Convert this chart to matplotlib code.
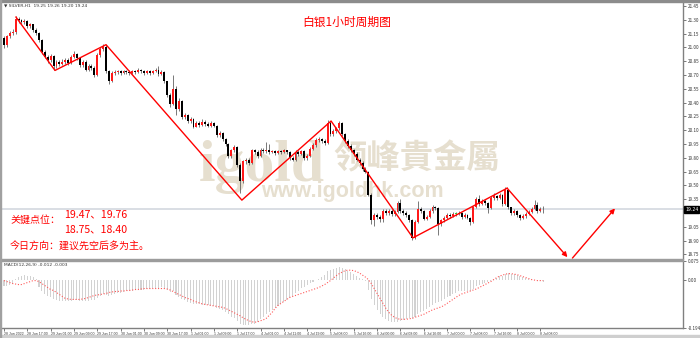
import matplotlib
matplotlib.use("Agg")
import matplotlib.pyplot as plt
import numpy as np
from matplotlib.patches import Rectangle
from matplotlib.transforms import blended_transform_factory

plt.rcParams["font.family"] = ["Noto Sans CJK SC", "DejaVu Sans"]

# --- hourly candles (SILVER H1), open of bar 0 then closes / highs / lows ---
first_open = 21.10
closes = [
    21.03, 21.12, 21.16, 21.17, 21.31, 21.30, 21.28, 21.29, 21.23, 21.25,
    21.19, 21.16, 21.08, 20.95, 20.90, 20.86, 20.91, 20.80, 20.84, 20.82,
    20.84, 20.86, 20.83, 20.90, 20.93, 20.88, 20.81, 20.84, 20.76, 20.80,
    20.78, 20.70, 20.92, 20.98, 21.00, 20.74, 20.63, 20.72, 20.73, 20.74,
    20.72, 20.74, 20.73, 20.72, 20.74, 20.73, 20.76, 20.74, 20.72, 20.74,
    20.72, 20.74, 20.76, 20.71, 20.73, 20.63, 20.48, 20.38, 20.55, 20.33,
    20.42, 20.24, 20.27, 20.20, 20.22, 20.14, 20.18, 20.16, 20.19, 20.17,
    20.15, 20.18, 20.15, 20.05, 20.07, 20.00, 19.95, 19.82, 19.88, 19.92,
    19.72, 19.55, 19.76, 19.78, 19.74, 19.88, 19.86, 19.82, 19.89, 19.87,
    19.88, 19.86, 19.87, 19.85, 19.87, 19.86, 19.88, 19.86, 19.80, 19.78,
    19.86, 19.84, 19.87, 19.80, 19.82, 19.90, 19.94, 19.99, 20.00, 19.98,
    19.96, 20.18, 20.06, 20.09, 20.12, 20.18, 20.06, 19.98, 19.93, 19.88,
    19.84, 19.78, 19.74, 19.68, 19.65, 19.40, 19.12, 19.18, 19.16, 19.13,
    19.22, 19.20, 19.22, 19.19, 19.21, 19.31, 19.22, 19.20, 19.18, 19.12,
    18.93, 19.10, 19.24, 19.22, 19.14, 19.16, 19.22, 19.27, 19.25, 19.08,
    19.12, 19.15, 19.18, 19.17, 19.19, 19.19, 19.20, 19.16, 19.18, 19.15,
    19.10, 19.26, 19.35, 19.30, 19.33, 19.31, 19.25, 19.36, 19.38, 19.36,
    19.40, 19.30, 19.45, 19.26, 19.20, 19.22, 19.18, 19.15, 19.17, 19.19,
    19.21, 19.24, 19.29, 19.22, 19.24, 19.24,
]
highs = [
    21.12, 21.14, 21.18, 21.20, 21.34, 21.33, 21.31, 21.31, 21.30, 21.27,
    21.26, 21.21, 21.17, 21.09, 20.97, 20.92, 20.93, 20.92, 20.86, 20.86,
    20.87, 20.88, 20.88, 20.92, 20.96, 20.94, 20.89, 20.86, 20.86, 20.82,
    20.82, 20.80, 20.94, 21.00, 21.04, 21.03, 20.76, 20.74, 20.75, 20.76,
    20.75, 20.76, 20.75, 20.75, 20.76, 20.75, 20.78, 20.77, 20.75, 20.76,
    20.75, 20.76, 20.78, 20.80, 20.75, 20.74, 20.64, 20.50, 20.70, 20.58,
    20.45, 20.43, 20.29, 20.28, 20.24, 20.23, 20.20, 20.20, 20.22, 20.21,
    20.19, 20.20, 20.19, 20.16, 20.09, 20.08, 20.02, 19.96, 19.90, 19.94,
    19.93, 19.74, 19.78, 19.80, 19.80, 19.90, 19.90, 19.88, 19.91, 19.91,
    19.97, 19.95, 19.89, 19.89, 19.89, 19.88, 19.90, 19.89, 19.87, 19.82,
    19.88, 19.88, 19.89, 19.88, 19.84, 19.92, 19.96, 20.01, 20.03, 20.02,
    20.00, 20.21, 20.20, 20.11, 20.14, 20.20, 20.19, 20.07, 20.00, 19.95,
    19.90, 19.86, 19.80, 19.76, 19.70, 19.66, 19.42, 19.20, 19.20, 19.18,
    19.24, 19.24, 19.24, 19.24, 19.23, 19.33, 19.35, 19.24, 19.22, 19.19,
    19.14, 19.12, 19.33, 19.26, 19.23, 19.18, 19.24, 19.29, 19.28, 19.26,
    19.14, 19.17, 19.20, 19.20, 19.21, 19.21, 19.22, 19.21, 19.20, 19.19,
    19.16, 19.28, 19.37, 19.40, 19.35, 19.35, 19.32, 19.38, 19.42, 19.40,
    19.42, 19.41, 19.48, 19.46, 19.27, 19.24, 19.23, 19.19, 19.19, 19.21,
    19.23, 19.26, 19.34, 19.32, 19.26, 19.28,
]
lows = [
    20.99, 21.01, 21.10, 21.14, 21.15, 21.27, 21.26, 21.26, 21.21, 21.21,
    21.17, 21.13, 21.06, 20.93, 20.88, 20.83, 20.84, 20.76, 20.78, 20.80,
    20.81, 20.82, 20.81, 20.82, 20.88, 20.86, 20.79, 20.79, 20.74, 20.74,
    20.76, 20.68, 20.69, 20.90, 20.96, 20.72, 20.60, 20.62, 20.70, 20.71,
    20.70, 20.71, 20.71, 20.70, 20.71, 20.71, 20.72, 20.72, 20.70, 20.71,
    20.70, 20.71, 20.73, 20.69, 20.70, 20.61, 20.46, 20.35, 20.37, 20.27,
    20.31, 20.22, 20.22, 20.18, 20.18, 20.12, 20.13, 20.14, 20.15, 20.15,
    20.13, 20.14, 20.13, 20.03, 20.03, 19.98, 19.93, 19.80, 19.80, 19.86,
    19.70, 19.42, 19.53, 19.73, 19.72, 19.73, 19.84, 19.80, 19.81, 19.85,
    19.85, 19.84, 19.85, 19.83, 19.84, 19.84, 19.85, 19.84, 19.78, 19.76,
    19.77, 19.82, 19.83, 19.78, 19.78, 19.81, 19.88, 19.92, 19.97, 19.96,
    19.94, 19.95, 20.04, 20.04, 20.07, 20.10, 20.04, 19.96, 19.91, 19.86,
    19.82, 19.76, 19.72, 19.66, 19.63, 19.38, 19.08, 19.06, 19.13, 19.10,
    19.10, 19.18, 19.18, 19.17, 19.17, 19.20, 19.20, 19.18, 19.16, 19.10,
    18.91, 18.92, 19.09, 19.20, 19.12, 19.12, 19.15, 19.20, 19.23, 18.96,
    19.06, 19.10, 19.14, 19.15, 19.16, 19.17, 19.18, 19.14, 19.15, 19.13,
    19.07, 19.09, 19.25, 19.28, 19.29, 19.29, 19.20, 19.24, 19.34, 19.34,
    19.35, 19.28, 19.29, 19.24, 19.18, 19.18, 19.16, 19.12, 19.14, 19.15,
    19.18, 19.20, 19.23, 19.20, 19.21, 19.20,
]

# --- MACD(12,26,9) panel ---
macd_hist = [
    -0.024, -0.026, -0.022, -0.018, 0.004, 0.010, 0.016, 0.018, 0.016, 0.014,
    0.010, 0.004, -0.030, -0.044, -0.060, -0.068, -0.072, -0.080, -0.084, -0.086,
    -0.088, -0.088, -0.088, -0.086, -0.084, -0.084, -0.086, -0.086, -0.088, -0.086,
    -0.084, -0.084, -0.074, -0.066, -0.060, -0.064, -0.068, -0.064, -0.060, -0.056,
    -0.054, -0.050, -0.048, -0.046, -0.044, -0.042, -0.040, -0.040, -0.040, -0.038,
    -0.036, -0.034, -0.032, -0.032, -0.030, -0.034, -0.042, -0.050, -0.048, -0.064,
    -0.070, -0.080, -0.084, -0.090, -0.094, -0.098, -0.100, -0.100, -0.102, -0.104,
    -0.104, -0.106, -0.108, -0.114, -0.118, -0.124, -0.130, -0.140, -0.150, -0.156,
    -0.166, -0.178, -0.182, -0.184, -0.184, -0.180, -0.178, -0.170, -0.160, -0.150,
    -0.140, -0.132, -0.124, -0.116, -0.108, -0.100, -0.092, -0.084, -0.076, -0.068,
    -0.056, -0.044, -0.034, -0.028, -0.022, -0.014, -0.008, -0.002, 0.004, 0.012,
    0.020, 0.034, 0.040, 0.044, 0.048, 0.052, 0.048, 0.042, 0.036, 0.030,
    0.024, 0.016, 0.008, 0.002, -0.004, -0.040, -0.080, -0.104, -0.124, -0.140,
    -0.152, -0.160, -0.166, -0.170, -0.172, -0.170, -0.166, -0.162, -0.158, -0.156,
    -0.158, -0.150, -0.140, -0.132, -0.126, -0.120, -0.112, -0.104, -0.096, -0.092,
    -0.086, -0.080, -0.072, -0.066, -0.060, -0.054, -0.048, -0.046, -0.044, -0.044,
    -0.046, -0.036, -0.026, -0.020, -0.016, -0.012, -0.010, -0.004, 0.002, 0.008,
    0.014, 0.016, 0.024, 0.026, 0.024, 0.022, 0.018, 0.014, 0.010, 0.008,
    0.004, 0.002, -0.002, -0.004, -0.006, -0.008,
]
macd_signal = [
    -0.004, -0.008, -0.012, -0.016, -0.018, -0.020, -0.020, -0.016, -0.012, -0.008,
    -0.004, -0.004, -0.008, -0.016, -0.024, -0.032, -0.040, -0.044, -0.052, -0.060,
    -0.068, -0.076, -0.078, -0.080, -0.080, -0.080, -0.080, -0.078, -0.076, -0.072,
    -0.068, -0.064, -0.062, -0.060, -0.058, -0.056, -0.052, -0.050, -0.048, -0.048,
    -0.046, -0.046, -0.044, -0.044, -0.042, -0.040, -0.040, -0.038, -0.036, -0.036,
    -0.036, -0.036, -0.036, -0.036, -0.036, -0.036, -0.038, -0.042, -0.048, -0.054,
    -0.060, -0.066, -0.072, -0.076, -0.080, -0.086, -0.090, -0.094, -0.098, -0.100,
    -0.102, -0.104, -0.106, -0.108, -0.110, -0.112, -0.116, -0.122, -0.128, -0.134,
    -0.140, -0.146, -0.154, -0.160, -0.166, -0.170, -0.172, -0.170, -0.166, -0.162,
    -0.156, -0.144, -0.132, -0.116, -0.104, -0.096, -0.088, -0.080, -0.072, -0.068,
    -0.064, -0.060, -0.056, -0.052, -0.048, -0.044, -0.040, -0.036, -0.032, -0.026,
    -0.020, -0.012, -0.004, 0.006, 0.016, 0.024, 0.030, 0.036, 0.038, 0.038,
    0.036, 0.032, 0.026, 0.018, 0.010, 0.000, -0.016, -0.036, -0.056, -0.076,
    -0.096, -0.116, -0.132, -0.144, -0.152, -0.158, -0.160, -0.160, -0.160, -0.158,
    -0.156, -0.152, -0.148, -0.144, -0.140, -0.134, -0.128, -0.122, -0.118, -0.114,
    -0.110, -0.104, -0.096, -0.088, -0.080, -0.072, -0.064, -0.058, -0.054, -0.050,
    -0.046, -0.042, -0.038, -0.032, -0.026, -0.020, -0.014, -0.008, 0.000, 0.008,
    0.014, 0.018, 0.022, 0.024, 0.024, 0.022, 0.020, 0.016, 0.012, 0.008,
    0.004, 0.000, -0.002, -0.004, -0.004, -0.004,
]

time_tick_bars = [0, 8, 16, 24, 32, 40, 48, 56, 64, 72, 80, 88,
                  96, 104, 112, 120, 128, 136, 144, 152, 160, 168, 176, 184]
time_tick_labels = [
    "28 Jun 2022", "28 Jun 17:00", "29 Jun 01:00", "29 Jun 09:00", "29 Jun 17:00",
    "30 Jun 01:00", "30 Jun 09:00", "30 Jun 17:00", "1 Jul 01:00", "1 Jul 09:00",
    "1 Jul 17:00", "4 Jul 01:00", "4 Jul 11:00", "4 Jul 19:00", "5 Jul 08:00",
    "5 Jul 16:00", "6 Jul 00:00", "6 Jul 08:00", "6 Jul 16:00", "7 Jul 00:00",
    "7 Jul 08:00", "7 Jul 16:00", "8 Jul 00:00", "8 Jul 08:00",
]
price_ticks = [21.45, 21.30, 21.15, 21.00, 20.85, 20.70, 20.55, 20.40, 20.25, 20.10,
               19.95, 19.80, 19.65, 19.50, 19.35, 19.05, 18.90, 18.75]
macd_ticks = [0.075, 0.0, -0.194]
macd_tick_labels = ["0.075", "0.00", "-0.194"]
last_price = 19.24

# hand-drawn wave lines (bar index, price)
zigzag_bar = [4.1, 17.5, 35.0, 81.6, 112.2, 140.3, 172.6]
zigzag_price = [21.33, 20.75, 21.03, 19.34, 20.20, 18.93, 19.47]
arrow_from_bar = [172.6, 195.0]
arrow_from_price = [19.47, 18.71]
arrow_to_bar = [193.3, 209.6]
arrow_to_price = [18.72, 19.25]

title_text = "白银1小时周期图"
key_label = "关键点位："
key_levels_up = "19.47、19.76"
key_levels_down = "18.75、18.40"
direction_text = "今日方向：建议先空后多为主。"

W, H = 700, 338
fig = plt.figure(figsize=(W / 100, H / 100), dpi=100)
fig.patch.set_facecolor("white")


def fx(px):
    return px / W


def fy(py):
    return 1 - py / H


ax = fig.add_axes([0, fy(259), fx(683), fy(3) - fy(259)])
ax_m = fig.add_axes([0, fy(327.7), fx(683), fy(261) - fy(327.7)])

n = len(closes)
x = np.arange(n)
c = np.array(closes)
o = np.concatenate([[first_open], c[:-1]])
hi = np.array(highs)
lo = np.array(lows)

bull = c > o + 0.004
bear = c < o - 0.004
colors = np.where(bull, "#ff1a1a", np.where(bear, "#000000", "#33cc33"))
body_lo = np.minimum(o, c)
body_h = np.maximum(np.abs(c - o), 0.006)

ax.vlines(x, lo, hi, color="#555555", lw=0.55, zorder=2)
ax.bar(x, body_h, bottom=body_lo, width=0.66, color=colors, linewidth=0, zorder=3)

ax.axhline(last_price, color="#d7dbe2", lw=1.3, zorder=1)

ax.plot(zigzag_bar, zigzag_price, color="#ff0000", lw=1.0, zorder=5)
for xa, ya, xb, yb in zip(arrow_from_bar, arrow_from_price, arrow_to_bar, arrow_to_price):
    ax.annotate("", xy=(xb, yb), xytext=(xa, ya), annotation_clip=False, zorder=5,
                arrowprops=dict(arrowstyle="-|>", color="#ff0000", lw=1.0,
                                mutation_scale=7, shrinkA=0, shrinkB=0))

xlim = (-4 / 2.915, (683 - 4) / 2.915)
ax.set_xlim(*xlim)
ax.set_ylim(18.70, 21.483)
ax.yaxis.tick_right()
ax.set_yticks(price_ticks)
ax.set_yticklabels([f"{p:.2f}" for p in price_ticks])
ax.tick_params(axis="y", labelsize=3.3, length=2, width=0.5, pad=1.5,
               colors="#444444", labelcolor="#333333")
ax.set_xticks([])
for side in ["top", "left", "bottom"]:
    ax.spines[side].set_visible(False)
ax.spines["right"].set_color("#808080")
ax.spines["right"].set_linewidth(1.0)

ax.text(1.003, last_price, f"{last_price:.2f}", transform=blended_transform_factory(ax.transAxes, ax.transData),
        ha="left", va="center", fontsize=3.3, color="white", family="DejaVu Sans",
        bbox=dict(boxstyle="square,pad=0.25", fc="black", ec="black"), clip_on=False)

# watermark behind candles
wm = "#e6dfcf"
ax.text(fx(199), fy(180.5), "igold", transform=fig.transFigure, fontsize=43, color=wm,
        family="Liberation Serif", weight="bold", ha="left", va="baseline", zorder=0.5)
ax.text(fx(333), fy(159), "领峰貴金屬", transform=fig.transFigure, fontsize=24, color=wm,
        family="Noto Sans CJK TC", weight="bold", ha="left", va="center", zorder=0.5)
ax.text(fx(352), fy(191.5), "www.igoldhk.com", transform=fig.transFigure, fontsize=15.5, color=wm,
        family="Liberation Sans", weight="bold", ha="center", va="center", zorder=0.5)

# MACD
ax_m.bar(x, macd_hist, width=0.36, color="#d2d2d2", linewidth=0, zorder=2)
ax_m.plot(x, macd_signal, color="#ff5a5a", lw=0.8, ls=(0, (1, 1.6)), zorder=3)
ax_m.set_xlim(*xlim)
ax_m.set_ylim(-0.194, 0.075)
ax_m.yaxis.tick_right()
ax_m.set_yticks(macd_ticks)
ax_m.set_yticklabels(macd_tick_labels)
ax_m.tick_params(axis="y", labelsize=3.3, length=2, width=0.5, pad=1.5,
                 colors="#444444", labelcolor="#333333")
ax_m.set_xticks(time_tick_bars)
ax_m.set_xticklabels(time_tick_labels, family="Liberation Sans")
ax_m.tick_params(axis="x", labelsize=2.5, length=2, width=0.5, pad=1.2,
                 colors="#444444", labelcolor="#333333")
for lab in ax_m.get_xticklabels():
    lab.set_ha("left")
for side in ["top", "left"]:
    ax_m.spines[side].set_visible(False)
for side in ["right", "bottom"]:
    ax_m.spines[side].set_color("#808080")
    ax_m.spines[side].set_linewidth(1.0)

# window frame
fig.patches.append(Rectangle((0, fy(2)), 1, 2 / H, transform=fig.transFigure,
                             color="#8c8c8c", zorder=10))
fig.patches.append(Rectangle((0, fy(261)), fx(683), 2.2 / H, transform=fig.transFigure,
                             color="#9c9c9c", zorder=10))
fig.patches.append(Rectangle((0, 0), 1, 3 / H, transform=fig.transFigure,
                             color="#cfcfcf", zorder=10))
fig.patches.append(Rectangle((0, 0), 1.2 / W, 1, transform=fig.transFigure,
                             color="#a0a0a0", zorder=10))

fig.text(fx(4), fy(5.5), "▼ SILVER,H1  19.25 19.26 19.20 19.24", fontsize=3.2,
         color="#333333", family="DejaVu Sans", va="center")
fig.text(fx(4), fy(264.5), "MACD(12,26,9) -0.012 -0.003", fontsize=3.2,
         color="#333333", family="DejaVu Sans", va="center")

# red notes
red = "#ff0000"
fig.text(fx(347), fy(22), title_text, fontsize=8.5, color=red, ha="center", va="center")
fig.text(fx(10), fy(220), key_label, fontsize=7.2, color=red, ha="left", va="center")
fig.text(fx(64), fy(214), key_levels_up, fontsize=7.6, color=red, ha="left", va="center")
fig.text(fx(64), fy(229), key_levels_down, fontsize=7.6, color=red, ha="left", va="center")
fig.text(fx(10), fy(247), direction_text, fontsize=7.2, color=red, ha="left", va="center")

fig.savefig("out.png", dpi=100, facecolor="white")
